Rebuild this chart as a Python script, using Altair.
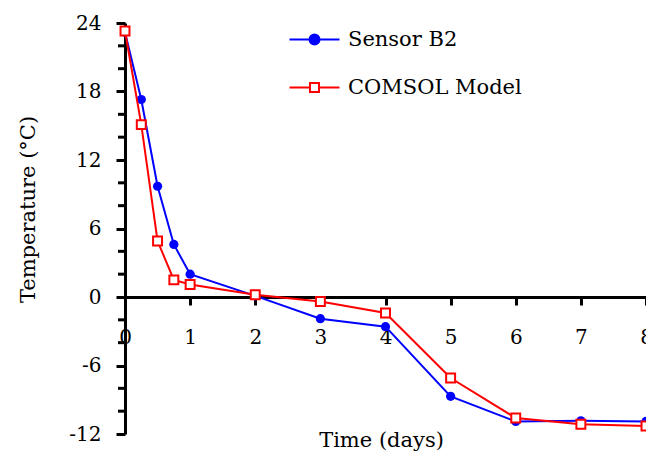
import altair as alt
import pandas as pd

# ---- data ----
days = [0, 0.25, 0.5, 0.75, 1, 2, 3, 4, 5, 6, 7, 8]
sensor_b2 = [23.2, 17.3, 9.7, 4.6, 2.0, 0.1, -1.9, -2.6, -8.7, -10.9, -10.85, -10.9]
comsol = [23.3, 15.1, 4.9, 1.5, 1.1, 0.2, -0.4, -1.4, -7.1, -10.6, -11.15, -11.3]
series_names = ["Sensor B2", "COMSOL Model"]
series_colors = ["#0000FF", "#FF0000"]
series_fills = ["#0000FF", "#FFFFFF"]
legend_shapes = [
    "M-5,0H5M-1,0A1,1,0,1,1,1,0A1,1,0,1,1,-1,0Z",
    "M-5,0H-0.9M0.9,0H5M-0.9,-0.9H0.9V0.9H-0.9Z",
]
x_ticks = [0, 1, 2, 3, 4, 5, 6, 7, 8]
y_ticks = [-12, -6, 0, 6, 12, 18, 24]
y_minor_ticks = [-10, -8, -4, -2, 2, 4, 8, 10, 14, 16, 20, 22]

df = pd.DataFrame({
    "day": days + days,
    "temp": sensor_b2 + comsol,
    "series": [series_names[0]] * len(days) + [series_names[1]] * len(days),
})
minor_df = pd.DataFrame({"y": y_minor_ticks, "x": [x_ticks[0]] * len(y_minor_ticks)})

FONT = "DejaVu Serif"
xscale = alt.Scale(domain=[0, 8], nice=False, zero=False)
yscale = alt.Scale(domain=[-12, 24], nice=False, zero=False)

x_axis = alt.Axis(
    values=x_ticks, offset=-137, grid=False,
    tickSize=8, tickWidth=3, tickColor="black",
    domainWidth=3, domainColor="black",
    labelPadding=22, labelFont=FONT, labelFontSize=20, labelColor="black",
    labelFlush=False, labelOverlap=False, labelExpr="datum.value + ''",
    title="Time (days)", titleFont=FONT, titleFontSize=21, titleFontWeight="normal",
    titleColor="black", titleX=256, titleY=149, titleBaseline="alphabetic",
)
y_axis = alt.Axis(
    values=y_ticks, grid=False,
    tickSize=9, tickWidth=3, tickColor="black",
    domainWidth=3, domainColor="black",
    labelPadding=15, labelFont=FONT, labelFontSize=20, labelColor="black",
    labelFlush=False, labelOverlap=False, labelExpr="datum.value + ''",
    title="Temperature (°C)", titleFont=FONT, titleFontSize=21, titleFontWeight="normal",
    titleColor="black", titleX=-91, titleY=186, titleBaseline="alphabetic",
)

legend = alt.Legend(
    orient="none", legendX=179, legendY=6, title=None, padding=0,
    labelFont=FONT, labelFontSize=21, labelColor="black", labelLimit=400,
    symbolSize=100, symbolStrokeWidth=2, symbolOpacity=1,
    labelOffset=23, rowPadding=26,
)

base = alt.Chart(df)
x_enc = alt.X("day:Q", scale=xscale, axis=x_axis)
y_enc = alt.Y("temp:Q", scale=yscale, axis=y_axis)
line_color = alt.Color("series:N", scale=alt.Scale(domain=series_names, range=series_colors), legend=None)

line_b2 = base.transform_filter(alt.datum.series == series_names[0]).mark_line(strokeWidth=2).encode(
    x=x_enc, y=y_enc, color=line_color)
pts_b2 = base.transform_filter(alt.datum.series == series_names[0]).mark_point(
    shape="circle", filled=True, size=85, color=series_colors[0], opacity=1).encode(x=x_enc, y=y_enc)
line_c = base.transform_filter(alt.datum.series == series_names[1]).mark_line(strokeWidth=2).encode(
    x=x_enc, y=y_enc, color=line_color)
pts_c = base.transform_filter(alt.datum.series == series_names[1]).mark_point(
    shape="square", filled=False, size=80, fill="#FFFFFF", fillOpacity=1,
    stroke=series_colors[1], strokeWidth=2, opacity=1).encode(x=x_enc, y=y_enc)

# legend carrier: invisible marks, the legend itself shows line + marker symbols
legend_layer = base.mark_point(size=100, strokeWidth=2, opacity=0).encode(
    x=x_enc, y=y_enc,
    stroke=alt.Stroke("series:N", scale=alt.Scale(domain=series_names, range=series_colors), legend=legend),
    fill=alt.Fill("series:N", scale=alt.Scale(domain=series_names, range=series_fills), legend=legend),
    shape=alt.Shape("series:N", scale=alt.Scale(domain=series_names, range=legend_shapes), legend=legend),
)

minor = alt.Chart(minor_df).mark_tick(
    orient="horizontal", size=7, thickness=3, color="black", opacity=1, xOffset=-3.5).encode(
    x=alt.X("x:Q", scale=xscale, axis=x_axis), y=alt.Y("y:Q", scale=yscale, axis=y_axis))

chart = alt.layer(legend_layer, minor, line_b2, pts_b2, line_c, pts_c).properties(
    width=521, height=411,
    autosize=alt.AutoSizeParams(type="none"),
    padding={"left": 117, "top": 15, "right": 0, "bottom": 17},
    background="white",
).configure_view(stroke=None)

chart.save("out.html", embed_options={"renderer": "svg", "actions": False})
